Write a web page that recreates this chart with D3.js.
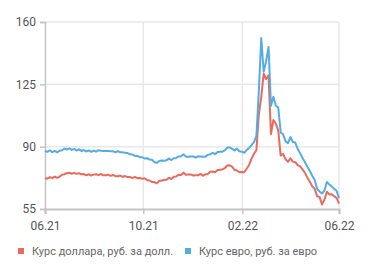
<!doctype html>
<html>
<head>
    <meta charset="UTF-8">
    <title>rub-rates</title>
    <script src="https://d3js.org/d3.v7.min.js"></script>
    <style>
        body{ margin:0; background:#fff; }
        text{ font-family: Roboto, "Open Sans", sans-serif; }
    </style>
</head>
<body>
  <svg id="chart" width="371" height="275"></svg>
<script>
// data: samples every ~3 days from 01.06.2021 to 01.06.2022
var usd = [72.4,72.0,72.9,72.3,73.2,72.5,73.1,74.2,74.5,75.1,
           75.4,74.8,75.3,74.7,75.1,74.5,74.6,73.9,74.5,73.8,
           74.3,74.5,74.0,74.7,73.9,74.0,74.3,73.6,74.1,73.4,
           73.4,73.8,73.1,73.5,72.9,72.9,72.3,73.0,72.3,72.4,
           72.0,72.3,71.3,71.0,70.2,70.1,69.4,70.7,71.0,71.3,
           71.4,72.6,71.8,73.1,73.3,74.2,74.1,75.4,74.2,74.4,
           74.4,73.8,73.9,73.9,74.7,73.7,74.5,74.6,75.9,76.0,
           75.6,76.9,77.1,77.2,77.9,79.4,79.5,78.8,77.0,76.6,
           75.6,75.8,75.7,77.6,79.7,83.3,86.0,88.0,108,118,
           131,128,130,97,105,103,99,85,86,83,
           81.5,83.4,81.6,81.3,79.6,78.9,77.2,75.3,72.6,70.3,
           67.7,66.3,62.2,61.8,57.5,60.2,64.7,63.2,63.3,62.2,
           61.2,58];
var eur = [87.6,87.1,88.0,86.9,87.6,86.8,87.7,88.0,89.0,88.3,
           89.1,88.2,88.8,87.8,88.5,87.6,88.1,87.3,87.9,87.1,
           87.8,87.2,88.0,87.7,87.6,87.5,87.5,87.4,87.4,86.8,
           87.5,86.8,86.8,86.6,86.4,85.7,85.6,84.8,84.8,84.1,
           84.0,83.4,83.5,82.8,82.7,81.4,80.9,82.0,82.2,82.1,
           82.4,83.3,82.5,83.5,83.7,84.5,84.6,85.7,84.4,84.4,
           84.5,84.5,83.8,84.6,84.5,84.4,84.4,85.4,85.7,86.6,
           85.8,87.0,87.2,87.2,87.9,89.4,89.6,88.8,87.8,88.9,
           87.4,87.2,86.6,88.1,89.3,90.8,92.5,96,121,151,
           132,138,146,113,118,113,112,98,97,93,
           92,95.4,92.6,92.3,88.7,86.3,83.7,81.3,78.7,76.3,
           73.7,71.3,66.2,64.8,63.7,65.3,70.2,68.8,67.7,66.3,
           65.2,61];
var yTicks = [55, 90, 125, 160];
var xTicks = ["06.21", "10.21", "02.22", "06.22"];
var names = ["Курс доллара, руб. за долл.", "Курс евро, руб. за евро"];
var colors = ["#ec6a5c", "#53ade4"];

var svg = d3.select("#chart");
var m = {left:45, right:339, top:22, bottom:209};
var start = new Date(2021, 5, 1), end = new Date(2022, 5, 1);
var step = (end - start) / (usd.length - 1);
function dateAt(i){ return new Date(start.getTime() + i * step); }

var x = d3.scaleTime().domain([start, end]).range([m.left, m.right]);
var y = d3.scaleLinear().domain([55, 160]).range([m.bottom, m.top]);
var parse = d3.timeParse("%m.%y");
var xDates = xTicks.map(function(s){ return parse(s); });

// grid
svg.append("g").selectAll("line").data(yTicks.slice(1)).enter().append("line")
    .attr("x1", m.left).attr("x2", m.right)
    .attr("y1", function(d){ return y(d); }).attr("y2", function(d){ return y(d); })
    .attr("stroke", "#e8e8e8").attr("stroke-width", 1.5);
svg.append("g").selectAll("line").data(xDates.slice(1)).enter().append("line")
    .attr("x1", function(d){ return x(d); }).attr("x2", function(d){ return x(d); })
    .attr("y1", m.top).attr("y2", m.bottom)
    .attr("stroke", "#e8e8e8").attr("stroke-width", 1.5);

// axes
var yAxis = svg.append("g").attr("transform", "translate(" + m.left + ",0)")
    .call(d3.axisLeft(y).tickValues(yTicks).tickSize(5).tickPadding(4));
var xAxis = svg.append("g").attr("transform", "translate(0," + m.bottom + ")")
    .call(d3.axisBottom(x).tickValues(xDates).tickSize(5).tickPadding(7)
        .tickFormat(function(d, i){ return xTicks[i]; }));
[yAxis, xAxis].forEach(function(a){
    a.select(".domain").attr("stroke", "#c4c4c4").attr("stroke-width", 1.5);
    a.selectAll(".tick line").attr("stroke", "#c4c4c4").attr("stroke-width", 1.5);
    a.selectAll("text").attr("fill", "#555").style("font-size", "12px")
        .style("font-family", "Roboto, sans-serif");
});
xAxis.select(".domain").attr("stroke-width", 2);

// lines
var line = d3.line().x(function(d, i){ return x(dateAt(i)); }).y(function(d){ return y(d); });
[usd, eur].forEach(function(s, k){
    svg.append("path").datum(s).attr("d", line).attr("fill", "none")
        .attr("stroke", colors[k]).attr("stroke-width", 2).attr("stroke-linejoin", "round");
});

// legend
var lx = [18, 185];
names.forEach(function(n, k){
    svg.append("rect").attr("x", lx[k]).attr("y", 248).attr("width", 6).attr("height", 6)
        .attr("fill", colors[k]);
    svg.append("text").attr("x", lx[k] + 14).attr("y", 255).attr("fill", "#666")
        .style("font-size", "11px").text(n);
});
</script>
</body>
</html>
